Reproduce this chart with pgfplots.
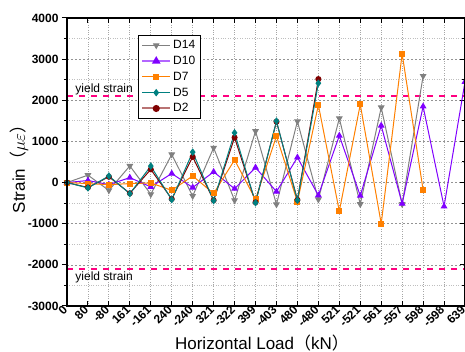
\documentclass[border=0pt]{standalone}
\usepackage{pgfplots}
\pgfplotsset{compat=1.18}
\usepackage{fontspec}
\setmainfont{Liberation Sans}
\newfontfamily\cjk{Noto Sans CJK SC}
\definecolor{cD14}{RGB}{128,128,128}
\definecolor{cD10}{RGB}{128,0,255}
\definecolor{cD7}{RGB}{255,128,0}
\definecolor{cD5}{RGB}{0,128,128}
\definecolor{cD2}{RGB}{128,0,0}
\definecolor{cYield}{RGB}{255,0,128}
\begin{document}
\begin{tikzpicture}
\path[use as bounding box] (-67pt,-46pt) rectangle (398pt,306pt);
\begin{axis}[
  at={(0pt,0pt)}, anchor=south west,
  scale only axis, width=398pt, height=288pt,
  xmin=0, xmax=19, ymin=-3000, ymax=4000,
  xtick={0,...,19},
  xticklabels={0,80,-80,161,-161,240,-240,321,-322,399,-403,480,-480,521,-521,561,-557,598,-598,639},
  ytick={-3000,-2000,...,4000},
  yticklabels={},
  minor ytick={-2500,-1500,...,3500},
  xtick pos=both, ytick pos=right, tick align=inside,
  major tick length=5pt, minor tick length=3pt,
  every tick/.style={black, line width=1pt},
  axis line style={line width=1.4pt},
  xmajorgrids, ymajorgrids, yminorgrids,
  major x grid style={gray!70, dotted, line width=0.8pt},
  major y grid style={gray!85, dash pattern=on 2pt off 2pt, line width=0.6pt},
  minor y grid style={gray!50, dotted, line width=0.8pt},
  xticklabel style={rotate=45, anchor=east, font=\bfseries\fontsize{12}{12}\selectfont, inner sep=2pt},
  xlabel={Horizontal Load{\cjk （}kN{\cjk ）}},
  ylabel={Strain{\cjk （}$\mu\varepsilon${\cjk ）}},
  label style={font=\fontsize{17}{17}\selectfont},
  xlabel style={at={(axis description cs:0.49,-0.128)}, anchor=center},
  ylabel style={at={(axis description cs:-0.12,0.49)}, anchor=center, rotate=0},
  legend style={at={(0.178,0.941)}, anchor=north west, draw=black, line width=0.8pt,
    font=\fontsize{12}{12}\selectfont, row sep=2pt, inner sep=3pt,
    cells={anchor=west}, /tikz/every even column/.append style={column sep=3pt}},
  legend image code/.code={\draw[mark repeat=2,mark phase=2] plot coordinates {(0pt,0pt)(14pt,0pt)(28pt,0pt)};},
  line width=1pt,
]
% legend entries in the reference order
\addlegendimage{cD14, line width=1pt, mark=triangle*, mark size=3pt, mark options={rotate=180}}
\addlegendentry{D14}
\addlegendimage{cD10!60, line width=2pt, mark=triangle*, mark size=3pt, mark options={cD10}}
\addlegendentry{D10}
\addlegendimage{cD7, line width=1pt, mark=square*, mark size=2.5pt}
\addlegendentry{D7}
\addlegendimage{cD5, line width=1pt, mark=diamond*, mark size=3pt}
\addlegendentry{D5}
\addlegendimage{cD2!55, line width=2pt, mark=*, mark size=2.5pt, mark options={cD2}}
\addlegendentry{D2}

% yield strain lines
\addplot[forget plot, cYield, line width=1.4pt, dash pattern=on 6pt off 6pt] coordinates {(0,2100) (19,2100)};
\addplot[forget plot, cYield, line width=1.4pt, dash pattern=on 6pt off 6pt] coordinates {(0,-2100) (19,-2100)};

% D14
\addplot[forget plot, cD14, line width=1pt, mark=triangle*, mark size=3pt, mark options={rotate=180}] coordinates {
(0,0) (1,180) (2,-190) (3,405) (4,-285) (5,683) (6,-327) (7,845) (8,-432) (9,1250)
(10,-530) (11,1490) (12,-410) (13,1560) (14,-525) (15,1825) (16,-525) (17,2590)};
% D10
\addplot[forget plot, cD10, line width=1pt, mark=triangle*, mark size=3pt] coordinates {
(0,0) (1,50) (2,-50) (3,120) (4,-105) (5,220) (6,-120) (7,260) (8,-150) (9,365)
(10,-220) (11,610) (12,-310) (13,1140) (14,-320) (15,1385) (16,-512) (17,1850) (18,-580) (19,2450)};
% D7
\addplot[forget plot, cD7, line width=1pt, mark=square*, mark size=2.5pt] coordinates {
(0,0) (1,-25) (2,-50) (3,-25) (4,-10) (5,-188) (6,160) (7,-265) (8,550) (9,-410)
(10,1130) (11,-470) (12,1885) (13,-695) (14,1900) (15,-1000) (16,3130) (17,-180)};
% D2
\addplot[forget plot, cD2, line width=1pt, mark=*, mark size=2.5pt] coordinates {
(0,0) (1,-120) (2,140) (3,-260) (4,320) (5,-400) (6,625) (7,-430) (8,1095) (9,-480)
(10,1480) (11,-420) (12,2515)};
% D5
\addplot[forget plot, cD5, line width=1pt, mark=diamond*, mark size=3pt] coordinates {
(0,0) (1,-130) (2,160) (3,-270) (4,400) (5,-415) (6,740) (7,-440) (8,1210) (9,-490)
(10,1495) (11,-430) (12,2415)};

\node[anchor=base west, font=\fontsize{12}{12}\selectfont] at (axis cs:0.22,2200) {yield strain};
\node[anchor=base west, font=\fontsize{12}{12}\selectfont] at (axis cs:0.22,-2380) {yield strain};
\end{axis}
% left axis: outward y ticks with their labels
\begin{axis}[
  at={(0pt,0pt)}, anchor=south west,
  scale only axis, width=398pt, height=288pt,
  xmin=0, xmax=19, ymin=-3000, ymax=4000,
  xtick=\empty,
  ytick={-3000,-2000,...,4000},
  yticklabels={-3000,-2000,-1000,0,1000,2000,3000,4000},
  minor ytick={-2500,-1500,...,3500},
  ytick pos=left, tick align=outside,
  major tick length=5pt, minor tick length=3pt,
  every tick/.style={black, line width=1pt},
  axis line style={line width=1.4pt},
  yticklabel style={font=\bfseries\fontsize{12}{12}\selectfont},
]
\end{axis}
\end{tikzpicture}
\end{document}
